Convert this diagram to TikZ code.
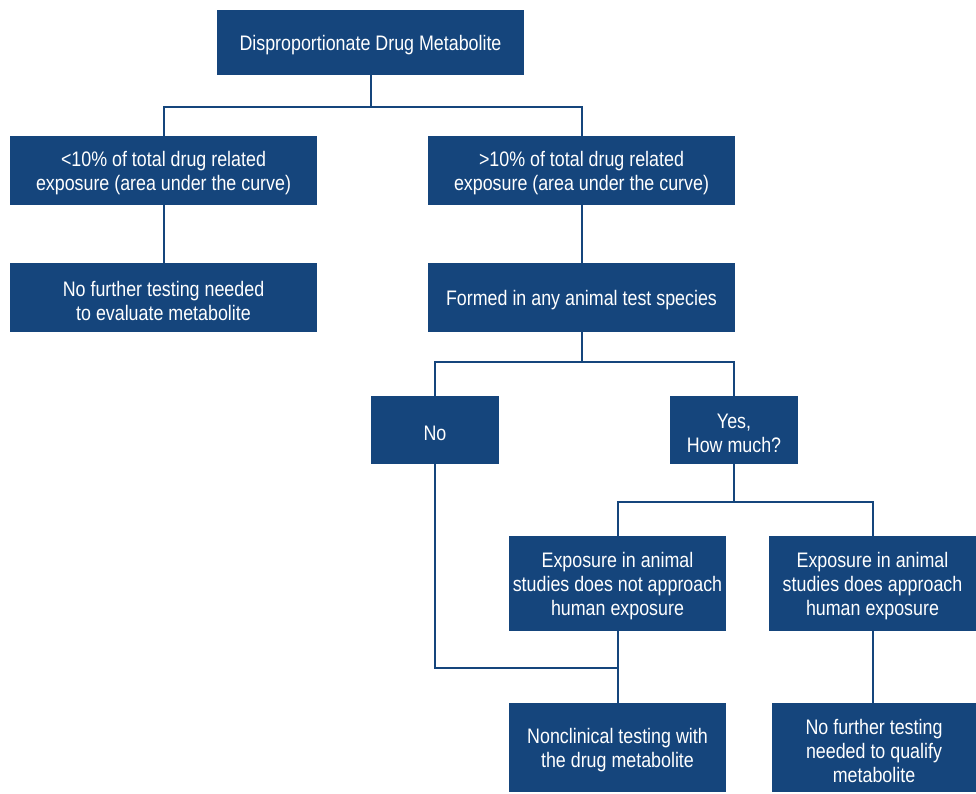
\documentclass[tikz,border=0pt]{standalone}
\usepackage{fontspec}
\setmainfont{Liberation Sans}[FakeStretch=0.85]
\definecolor{navy}{HTML}{15457C}
\begin{document}
\begin{tikzpicture}[x=1pt,y=-1pt,
  box/.style={fill=navy,draw=none,inner sep=0pt},
  txt/.style={text=white,align=center,inner sep=0pt,yshift=-3pt,
    font=\fontsize{21}{24}\selectfont},
  link/.style={draw=navy,line width=2pt}]
\useasboundingbox (0,0) rectangle (976,793);
\node[box,minimum width=307,minimum height=65,label={[txt]center:Disproportionate Drug Metabolite}] (top) at (370.5,42.5) {};
\node[box,minimum width=307,minimum height=69,label={[txt]center:<10\% of total drug related\\exposure (area under the curve)}] (lt) at (163.5,170.5) {};
\node[box,minimum width=307,minimum height=69,label={[txt]center:>10\% of total drug related\\exposure (area under the curve)}] (gt) at (581.5,170.5) {};
\node[box,minimum width=307,minimum height=69,label={[txt]center:No further testing needed\\to evaluate metabolite}] (nf1) at (163.5,297.5) {};
\node[box,minimum width=307,minimum height=69,label={[txt]center:Formed in any animal test species}] (formed) at (581.5,297.5) {};
\node[box,minimum width=128,minimum height=68,label={[txt]center:No}] (no) at (435,430) {};
\node[box,minimum width=128,minimum height=68,label={[txt]center:Yes,\\How much?}] (yes) at (734,430) {};
\node[box,minimum width=217,minimum height=95,label={[txt]center:Exposure in animal\\studies does not approach\\human exposure}] (notappr) at (617.5,583.5) {};
\node[box,minimum width=207,minimum height=95,label={[txt]center:Exposure in animal\\studies does approach\\human exposure}] (appr) at (872.5,583.5) {};
\node[box,minimum width=217,minimum height=89,label={[txt]center:Nonclinical testing with\\the drug metabolite}] (nonclin) at (617.5,747.5) {};
\node[box,minimum width=204,minimum height=89,label={[txt]center:No further testing\\needed to qualify\\metabolite}] (nf2) at (874,747.5) {};
\coordinate (j1) at (370.5,107);
\coordinate (j2) at (581.5,362);
\coordinate (j3) at (734,502);
\coordinate (j4) at (617.5,668);
\draw[link] (top.south) -- (j1);
\draw[link] (lt.north) -- (lt.north |- j1) -- (gt.north |- j1) -- (gt.north);
\draw[link] (lt.south) -- (nf1.north);
\draw[link] (gt.south) -- (formed.north);
\draw[link] (formed.south) -- (j2);
\draw[link] (no.north) -- (no.north |- j2) -- (yes.north |- j2) -- (yes.north);
\draw[link] (yes.south) -- (j3);
\draw[link] (notappr.north) -- (notappr.north |- j3) -- (appr.north |- j3) -- (appr.north);
\draw[link] (notappr.south) -- (nonclin.north);
\draw[link] (no.south) -- (no.south |- j4) -- (j4);
\draw[link] (appr.south) -- (appr.south |- nf2.north);
\end{tikzpicture}
\end{document}
